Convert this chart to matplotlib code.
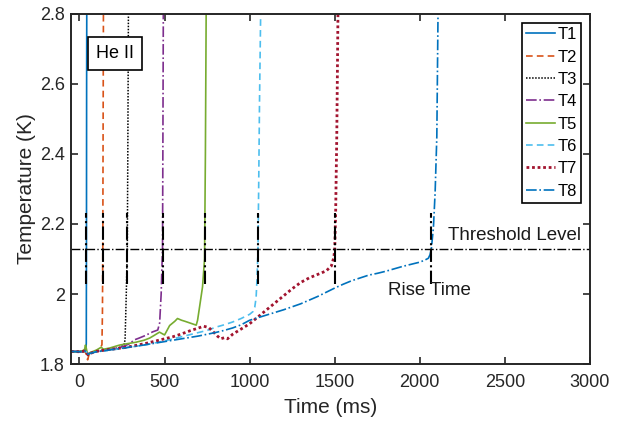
import matplotlib.pyplot as plt
from matplotlib.ticker import FormatStrFormatter

plt.rcParams['font.family'] = ['Liberation Sans', 'DejaVu Sans']

# --- datos (tiempo en ms, temperatura en K) ---
t1_time = [-50, -30, -10, 0, 10, 20, 30, 38, 40, 41, 42, 43]
t1_temp = [1.836, 1.834, 1.837, 1.835, 1.836, 1.834, 1.836, 1.838, 1.86, 2.13, 2.6, 2.85]

t2_time = [-50, -20, 0, 20, 35, 42, 48, 55, 70, 90, 110, 125, 132, 135, 137, 139, 141]
t2_temp = [1.835, 1.836, 1.834, 1.836, 1.835, 1.82, 1.812, 1.825, 1.832, 1.836, 1.84,
           1.848, 1.855, 1.95, 2.13, 2.5, 2.85]

t3_time = [-50, 0, 40, 48, 60, 100, 150, 200, 240, 262, 268, 275, 281, 284, 288]
t3_temp = [1.836, 1.835, 1.838, 1.826, 1.83, 1.836, 1.84, 1.842, 1.848, 1.855, 1.87,
           2.0, 2.13, 2.4, 2.85]

t4_time = [-50, 0, 40, 48, 60, 100, 150, 200, 250, 290, 323, 350, 380, 410, 431, 460,
           471, 480, 486, 488, 490, 493]
t4_temp = [1.836, 1.835, 1.838, 1.826, 1.832, 1.836, 1.84, 1.843, 1.849, 1.857, 1.869,
           1.874, 1.88, 1.887, 1.892, 1.897, 1.917, 2.0, 2.1, 2.13, 2.4, 2.85]

t5_time = [-50, -20, 0, 20, 30, 35, 40, 46, 52, 60, 80, 100, 128, 140, 180, 235, 280,
           330, 380, 412, 440, 470, 500, 530, 560, 576, 600, 620, 650, 686, 694, 706,
           723, 735, 740, 745]
t5_temp = [1.836, 1.834, 1.836, 1.838, 1.842, 1.854, 1.845, 1.83, 1.826, 1.832, 1.836,
           1.84, 1.848, 1.842, 1.846, 1.854, 1.858, 1.862, 1.868, 1.874, 1.882, 1.891,
           1.883, 1.91, 1.922, 1.93, 1.925, 1.922, 1.917, 1.911, 1.925, 1.964, 2.02,
           2.1, 2.4, 2.85]

t6_time = [-50, 0, 30, 42, 50, 60, 100, 150, 200, 250, 300, 350, 400, 450, 500, 550,
           600, 650, 700, 750, 800, 850, 900, 950, 1000, 1020, 1030, 1038, 1044, 1049,
           1053, 1058, 1066]
t6_temp = [1.836, 1.835, 1.837, 1.834, 1.827, 1.83, 1.835, 1.838, 1.841, 1.844, 1.848,
           1.852, 1.856, 1.861, 1.866, 1.872, 1.878, 1.884, 1.89, 1.896, 1.905, 1.912,
           1.92, 1.93, 1.942, 1.95, 1.962, 1.99, 2.05, 2.13, 2.3, 2.55, 2.85]

t7_time = [-50, 0, 30, 42, 50, 60, 100, 150, 200, 250, 300, 350, 400, 450, 500, 550,
           600, 650, 700, 730, 760, 790, 810, 830, 850, 870, 900, 950, 1000, 1050, 1100,
           1150, 1200, 1250, 1300, 1350, 1400, 1450, 1480, 1495, 1500, 1505, 1512, 1520]
t7_temp = [1.836, 1.835, 1.837, 1.833, 1.826, 1.83, 1.836, 1.84, 1.843, 1.846, 1.85,
           1.855, 1.86, 1.866, 1.872, 1.878, 1.886, 1.895, 1.903, 1.908, 1.904, 1.89,
           1.88, 1.872, 1.875, 1.872, 1.885, 1.9, 1.915, 1.935, 1.955, 1.975, 1.995,
           2.015, 2.033, 2.046, 2.056, 2.066, 2.08, 2.105, 2.13, 2.22, 2.45, 2.85]

t8_time = [-50, 0, 30, 45, 50, 60, 100, 150, 200, 250, 300, 350, 400, 450, 500, 550,
           600, 650, 700, 750, 800, 850, 900, 950, 1000, 1100, 1200, 1300, 1400, 1450,
           1500, 1550, 1600, 1650, 1700, 1750, 1800, 1850, 1900, 1950, 2000, 2030, 2050,
           2060, 2068, 2080, 2090, 2100, 2108]
t8_temp = [1.836, 1.835, 1.837, 1.834, 1.828, 1.83, 1.835, 1.838, 1.842, 1.845, 1.849,
           1.852, 1.856, 1.86, 1.864, 1.868, 1.872, 1.876, 1.88, 1.885, 1.89, 1.896,
           1.903, 1.912, 1.925, 1.94, 1.955, 1.972, 1.993, 2.005, 2.017, 2.028, 2.038,
           2.046, 2.054, 2.059, 2.065, 2.072, 2.079, 2.085, 2.091, 2.097, 2.102, 2.112,
           2.13, 2.19, 2.29, 2.45, 2.85]

rise_times = [41, 137, 282, 488, 737, 1049, 1500, 2068]
threshold = 2.13

fig = plt.figure(figsize=(6.32, 4.24), dpi=100)
ax = fig.add_axes([0.1123, 0.1415, 0.8212, 0.8255])

# --- curvas de los sensores ---
ax.plot(t1_time, t1_temp, '-', color='#0072BD', lw=1.2, label='T1')
ax.plot(t2_time, t2_temp, '--', color='#D95319', lw=1.2, dashes=(4, 2.5), label='T2')
ax.plot(t3_time, t3_temp, ':', color='black', lw=1.1, dashes=(1, 1), label='T3')
ax.plot(t4_time, t4_temp, '-.', color='#7E2F8E', lw=1.2, label='T4')
ax.plot(t5_time, t5_temp, '-', color='#77AC30', lw=1.2, label='T5')
ax.plot(t6_time, t6_temp, '--', color='#4DBEEE', lw=1.2, dashes=(4, 2.5), label='T6')
ax.plot(t7_time, t7_temp, ':', color='#A2142F', lw=2.0, dashes=(1, 1), label='T7')
ax.plot(t8_time, t8_temp, '-.', color='#0072BD', lw=1.2, label='T8')

# --- nivel umbral y marcas de tiempo de subida ---
ax.plot([-50, 3000], [threshold, threshold], '-.', color='black', lw=1.0)
for rt in rise_times:
    ax.plot([rt, rt], [2.03, 2.23], '-.', color='black', lw=1.5)

ax.text(2165, 2.166, 'Threshold Level', fontsize=13.5, va='center', color='#1a1a1a')
ax.text(1812, 2.009, 'Rise Time', fontsize=13.5, va='center', color='#1a1a1a')
ax.text(208, 2.687, 'He II', fontsize=13, ha='center', va='center',
        bbox=dict(boxstyle='square,pad=0.45', fc='white', ec='black', lw=1.2))

ax.set_xlim(-50, 3000)
ax.set_ylim(1.8, 2.8)
ax.set_xticks([0, 500, 1000, 1500, 2000, 2500, 3000])
ax.set_yticks([1.8, 2.0, 2.2, 2.4, 2.6, 2.8])
ax.yaxis.set_major_formatter(FormatStrFormatter('%g'))
ax.tick_params(direction='in', top=True, right=True, labelsize=13, length=5,
               width=1.2, colors='#262626')
ax.tick_params(axis='x', pad=7.5)
ax.tick_params(axis='y', pad=4.5)
for sp in ax.spines.values():
    sp.set_linewidth(1.4)
    sp.set_color('#262626')

ax.set_xlabel('Time (ms)', fontsize=15, color='#262626', labelpad=5)
ax.set_ylabel('Temperature (K)', fontsize=15, color='#262626', labelpad=3)

leg = ax.legend(loc='upper right', fontsize=12, handlelength=1.75, handletextpad=0.12,
                labelspacing=0.44, borderpad=0.25, borderaxespad=0.55, fancybox=False,
                framealpha=1)
leg.get_frame().set_edgecolor('black')
leg.get_frame().set_linewidth(1.2)

plt.savefig('out.png', dpi=100)
